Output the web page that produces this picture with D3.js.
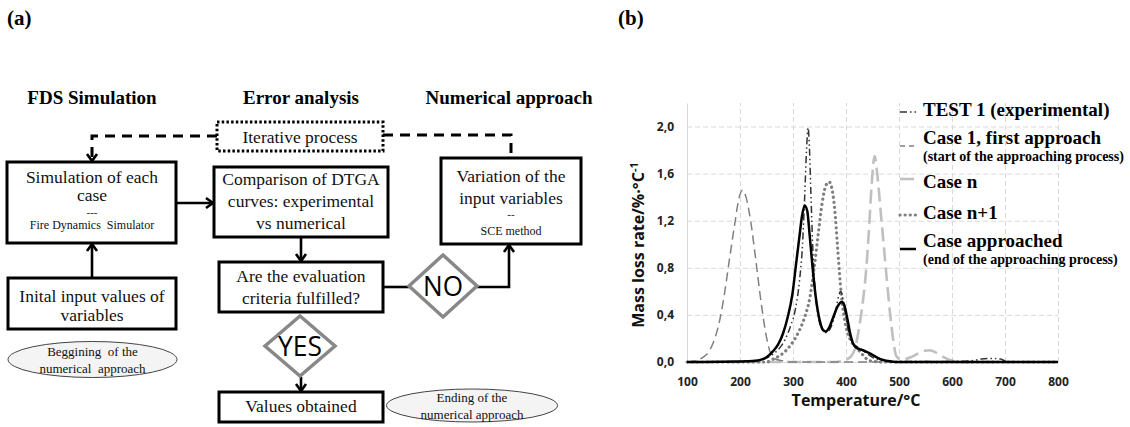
<!DOCTYPE html>
<html>
<head>
<meta charset="utf-8">
<script src="https://cdn.jsdelivr.net/npm/d3@7"></script>
<style>
  html, body { margin: 0; padding: 0; background: #fff; }
  svg { display: block; }
  .serif { font-family: "Liberation Serif", "Times New Roman", serif; }
  .sans { font-family: "Open Sans", "Liberation Sans", sans-serif; }
  .pre { white-space: pre; }
</style>
</head>
<body>
<svg id="fig" width="1130" height="427"></svg>
<script>
// --- Daten (b): DTGA-Kurven, [Temperatur °C, Massenverlustrate %/°C] ---

const SERIES = ["TEST 1 (experimental)", "Case 1, first approach", "Case n", "Case n+1", "Case approached"];
const SUBLABELS = ["", "(start of the approaching process)", "", "", "(end of the approaching process)"];

const test1 = [[100,0],[200,0.005],[240,0.02],[260,0.06],[275,0.12],[285,0.19],[295,0.3],[305,0.46],[312,0.68],
  [318,1.0],[322,1.4],[325.5,1.8],[328.5,1.99],[331,1.82],[334,1.4],[337.5,0.95],[342,0.6],[348,0.38],[355,0.28],
  [363,0.25],[372,0.3],[380,0.42],[386,0.56],[390,0.6],[395,0.52],[401,0.35],[408,0.2],[415,0.15],[425,0.12],
  [437,0.08],[450,0.04],[465,0.015],[490,0.005],[600,0.005],[635,0.01],[655,0.025],[675,0.03],[692,0.025],
  [702,0.005],[720,0],[800,0]];

const case1 = [[100,0],[110,0.004],[120,0.015],[130,0.04],[140,0.08],[150,0.17],[160,0.32],[170,0.56],[180,0.87],
  [190,1.17],[198,1.39],[205,1.46],[212,1.39],[220,1.2],[230,0.86],[240,0.5],[250,0.21],[258,0.07],[265,0.03],
  [280,0.01],[300,0],[800,0]];

const caseN = [[100,0],[380,0],[400,0.02],[410,0.05],[418,0.13],[425,0.3],[432,0.52],[438,0.78],[443,1.1],[448,1.48],
  [454,1.75],[460,1.55],[465,1.3],[470,1.05],[476,0.75],[483,0.42],[489,0.19],[495,0.05],[505,0.02],[522,0.04],
  [535,0.07],[548,0.095],[558,0.1],[570,0.08],[585,0.04],[600,0.012],[620,0],[800,0]];

const caseN1 = [[100,0],[250,0],[265,0.03],[280,0.07],[295,0.14],[310,0.25],[322,0.38],[332,0.55],[340,0.8],[348,1.1],
  [355,1.35],[362,1.5],[368,1.53],[374,1.46],[379,1.28],[384,0.98],[389,0.68],[394,0.46],[400,0.3],[408,0.19],
  [418,0.13],[428,0.08],[438,0.03],[450,0.005],[470,0],[800,0]];

const approached = [[100,0],[200,0.004],[230,0.01],[250,0.04],[262,0.09],[272,0.15],[281,0.24],[290,0.38],[299,0.58],
  [306,0.84],[312,1.06],[317,1.24],[322,1.33],[327,1.28],[331,1.1],[337,0.8],[343,0.55],[350,0.36],[357,0.27],
  [362,0.26],[368,0.29],[376,0.38],[384,0.47],[392,0.51],[397,0.48],[402,0.38],[408,0.24],[414,0.15],[420,0.12],
  [432,0.1],[444,0.075],[458,0.04],[470,0.017],[485,0.005],[500,0],[800,0]];

const X_TICKS = [100, 200, 300, 400, 500, 600, 700, 800];
const Y_TICKS = [0, 0.4, 0.8, 1.2, 1.6, 2.0];

// --- Texte (a): Flussdiagramm ---

const FLOW_HEADERS = ["FDS Simulation", "Error analysis", "Numerical approach"];
const FLOW_ITER = "Iterative process";
const FLOW_SIM = ["Simulation of each", "case", "---", "Fire Dynamics  Simulator"];
const FLOW_CMP = ["Comparison of DTGA", "curves: experimental", "vs numerical"];
const FLOW_VAR = ["Variation of the", "input variables", "--", "SCE method"];
const FLOW_CRIT = ["Are the evaluation", "criteria fulfilled?"];
const FLOW_INIT = ["Inital input values of", "variables"];
const FLOW_VALS = ["Values obtained"];
const FLOW_BEGIN = ["Beggining  of the", "numerical  approach"];
const FLOW_END = ["Ending of the", "numerical approach"];
const FLOW_NO = "NO", FLOW_YES = "YES";

const svg = d3.select("#fig");

// Panel-Buchstaben
svg.append("text").attr("class", "serif").attr("x", 7).attr("y", 25)
  .attr("font-size", 21).attr("font-weight", "bold").text("(a)");
svg.append("text").attr("class", "serif").attr("x", 618).attr("y", 25)
  .attr("font-size", 21).attr("font-weight", "bold").text("(b)");

// ============ (a) Flussdiagramm ============
const fa = svg.append("g");

[[92, FLOW_HEADERS[0]], [301, FLOW_HEADERS[1]], [509, FLOW_HEADERS[2]]].forEach(([cx, t]) => {
  fa.append("text").attr("class", "serif").attr("x", cx).attr("y", 104)
    .attr("text-anchor", "middle").attr("font-size", 19).attr("font-weight", "bold").text(t);
});

function box(x0, y0, x1, y1) {
  fa.append("rect").attr("x", x0).attr("y", y0).attr("width", x1 - x0).attr("height", y1 - y0)
    .attr("fill", "#fff").attr("stroke", "#000").attr("stroke-width", 3);
}
function lines(cx, specs) {
  specs.forEach(([t, yb, fs]) => {
    fa.append("text").attr("class", "serif pre").attr("x", cx).attr("y", yb)
      .attr("text-anchor", "middle").attr("font-size", fs).attr("fill", "#111").text(t);
  });
}
function chevron(x2, y2, dx, dy) {
  const L = 7, W = 5;
  const px = -dy, py = dx;
  fa.append("path")
    .attr("d", `M${x2 - dx * L + px * W},${y2 - dy * L + py * W}L${x2},${y2}L${x2 - dx * L - px * W},${y2 - dy * L - py * W}`)
    .attr("fill", "none").attr("stroke", "#000").attr("stroke-width", 2.6);
}
function arrow(pts) {
  fa.append("path").attr("d", d3.line()(pts)).attr("fill", "none")
    .attr("stroke", "#000").attr("stroke-width", 2.6);
  const [a, b] = pts.slice(-2);
  const len = Math.hypot(b[0] - a[0], b[1] - a[1]);
  chevron(b[0], b[1], (b[0] - a[0]) / len, (b[1] - a[1]) / len);
}
function diamond(cx, cy, hw, hh, label, tl) {
  fa.append("path").attr("d", `M${cx - hw},${cy}L${cx},${cy - hh}L${cx + hw},${cy}L${cx},${cy + hh}Z`)
    .attr("fill", "#fff").attr("stroke", "#888").attr("stroke-width", 3.5);
  fa.append("text").attr("class", "sans").attr("x", cx).attr("y", cy + 10)
    .attr("text-anchor", "middle").attr("font-size", 28)
    .attr("textLength", tl).attr("lengthAdjust", "spacingAndGlyphs").text(label);
}
function oval(cx, cy, rx, ry, t) {
  fa.append("ellipse").attr("cx", cx).attr("cy", cy).attr("rx", rx).attr("ry", ry)
    .attr("fill", "#f4f4f4").attr("stroke", "#444").attr("stroke-width", 1);
  lines(cx, [[t[0], cy - 4, 13], [t[1], cy + 13, 13]]);
}

// Iterativer Prozess (gestrichelt)
fa.append("path").attr("d", "M217,136H92V160").attr("fill", "none")
  .attr("stroke", "#000").attr("stroke-width", 3).attr("stroke-dasharray", "10,7");
chevron(92, 161, 0, 1);
fa.append("path").attr("d", "M383,135H511V158").attr("fill", "none")
  .attr("stroke", "#000").attr("stroke-width", 3).attr("stroke-dasharray", "10,7");
fa.append("rect").attr("x", 217).attr("y", 122).attr("width", 166).attr("height", 29)
  .attr("fill", "#fff").attr("stroke", "#000").attr("stroke-width", 3).attr("stroke-dasharray", "2.5,2.2");
lines(300, [[FLOW_ITER, 143, 17.5]]);

// Verbindungen
arrow([[176, 203], [213, 203]]);
arrow([[92, 278], [92, 244]]);
arrow([[301, 237], [301, 261]]);
fa.append("path").attr("d", "M383,287H409").attr("stroke", "#000").attr("stroke-width", 2.6);
arrow([[477, 287], [509, 287], [509, 245]]);
arrow([[301, 377], [301, 391]]);

// Kästen
box(7, 162, 176, 243);
lines(92, [[FLOW_SIM[0], 183, 17.5], [FLOW_SIM[1], 201, 17.5], [FLOW_SIM[2], 216, 11], [FLOW_SIM[3], 229, 12]]);
box(214, 167, 388, 237);
lines(301, [[FLOW_CMP[0], 185, 17.5], [FLOW_CMP[1], 207, 17.5], [FLOW_CMP[2], 229, 17.5]]);
box(441, 158, 581, 244);
lines(511, [[FLOW_VAR[0], 182, 17.5], [FLOW_VAR[1], 204, 17.5], [FLOW_VAR[2], 218, 11], [FLOW_VAR[3], 235, 12]]);
box(219, 262, 383, 312);
lines(301, [[FLOW_CRIT[0], 282, 17.5], [FLOW_CRIT[1], 304, 17.5]]);
box(8, 278, 176, 329);
lines(92, [[FLOW_INIT[0], 302, 17.5], [FLOW_INIT[1], 321, 17.5]]);
box(219, 392, 383, 422);
lines(301, [[FLOW_VALS[0], 412, 17.5]]);

diamond(443, 286, 34, 31, FLOW_NO, 40);
diamond(300, 346, 35, 30, FLOW_YES, 44);

oval(92.5, 359.5, 84.5, 18, FLOW_BEGIN);
oval(472, 405.5, 85.5, 16.5, FLOW_END);

// ============ (b) DTGA-Diagramm ============
const x = d3.scaleLinear().domain([100, 800]).range([687, 1058]);
const y = d3.scaleLinear().domain([0, 2.2]).range([362, 103]);

const gb = svg.append("g");

// Gitter
gb.append("g").attr("transform", `translate(0,${y(0)})`)
  .call(d3.axisBottom(x).tickValues(X_TICKS.slice(1)).tickSize(-(y(0) - y(2.2))).tickFormat(""))
  .call(g => g.select(".domain").remove())
  .call(g => g.selectAll("line").attr("stroke", "#d9d9d9").attr("stroke-dasharray", "5,3"));
gb.append("g").attr("transform", `translate(${x(100)},0)`)
  .call(d3.axisLeft(y).tickValues(Y_TICKS.slice(1)).tickSize(-(x(800) - x(100))).tickFormat(""))
  .call(g => g.select(".domain").remove())
  .call(g => g.selectAll("line").attr("stroke", "#d9d9d9").attr("stroke-dasharray", "5,3"));

// Achsen
const fmt = d => d.toFixed(1).replace(".", ",");
gb.append("g").attr("transform", `translate(${x(100)},0)`)
  .call(d3.axisLeft(y).tickValues(Y_TICKS).tickFormat(fmt).tickSize(0).tickPadding(13))
  .call(g => g.select(".domain").attr("stroke", "#d9d9d9"))
  .call(g => g.selectAll("text").attr("class", "sans").attr("font-size", 12)
    .attr("font-weight", "bold").attr("fill", "#222"));
gb.append("g").attr("transform", `translate(0,${y(0)})`)
  .call(d3.axisBottom(x).tickValues(X_TICKS).tickSize(0).tickPadding(15))
  .call(g => g.select(".domain").attr("stroke", "#d9d9d9"))
  .call(g => g.selectAll("text").attr("class", "sans").attr("font-size", 12)
    .attr("font-weight", "bold").attr("fill", "#222"));

gb.append("text").attr("class", "sans").attr("x", 856).attr("y", 406)
  .attr("text-anchor", "middle").attr("font-size", 16).attr("font-weight", "bold").attr("fill", "#111")
  .text("Temperature/°C");
const yl = gb.append("text").attr("class", "sans")
  .attr("transform", `translate(644,245) rotate(-90)`)
  .attr("text-anchor", "middle").attr("font-size", 16).attr("font-weight", "bold").attr("fill", "#111");
yl.append("tspan").text("Mass loss rate/%·°C");
yl.append("tspan").attr("font-size", 11).attr("dy", -6).text("-1");

// Kurven
const STYLES = [
  { color: "#333", width: 1.5, dash: "7,3,1.5,3,1.5,3", cap: "butt" },
  { color: "#808080", width: 1.5, dash: "9,5", cap: "butt" },
  { color: "#c0c0c0", width: 2.6, dash: "14,6", cap: "butt" },
  { color: "#7f7f7f", width: 3.2, dash: "0.1,5", cap: "round" },
  { color: "#000", width: 2.5, dash: null, cap: "butt" }
];
const DATA = [test1, case1, caseN, caseN1, approached];
const line = d3.line().curve(d3.curveMonotoneX).x(d => x(d[0])).y(d => y(d[1]));
const drawOrder = [2, 1, 3, 0, 4];
drawOrder.forEach(i => {
  const s = STYLES[i];
  gb.append("path").datum(DATA[i]).attr("d", line)
    .attr("fill", "none").attr("stroke", s.color).attr("stroke-width", s.width)
    .attr("stroke-dasharray", s.dash).attr("stroke-linecap", s.cap).attr("stroke-linejoin", "round");
});

// Legende
const LEG_SAMPLE_Y = [112, 146, 179, 215, 249];
const LEG_TEXT_Y = [116, 144, 188, 219, 247];
const LEG_SUB_Y = [0, 161, 0, 0, 264];
const LEG_DASH = ["7,3,1.5,3", "5,4", "14,4", "0.1,5", null];
const lg = gb.append("g");
SERIES.forEach((name, i) => {
  const s = STYLES[i];
  lg.append("line").attr("x1", 900).attr("x2", 916).attr("y1", LEG_SAMPLE_Y[i]).attr("y2", LEG_SAMPLE_Y[i])
    .attr("stroke", s.color).attr("stroke-width", s.width).attr("stroke-dasharray", LEG_DASH[i])
    .attr("stroke-linecap", s.cap);
  lg.append("text").attr("class", "serif").attr("x", 923).attr("y", LEG_TEXT_Y[i])
    .attr("font-size", 19).attr("font-weight", "bold").text(name);
  if (SUBLABELS[i]) {
    lg.append("text").attr("class", "serif").attr("x", 923).attr("y", LEG_SUB_Y[i])
      .attr("font-size", 14).attr("font-weight", "bold").text(SUBLABELS[i]);
  }
});
</script>
</body>
</html>
